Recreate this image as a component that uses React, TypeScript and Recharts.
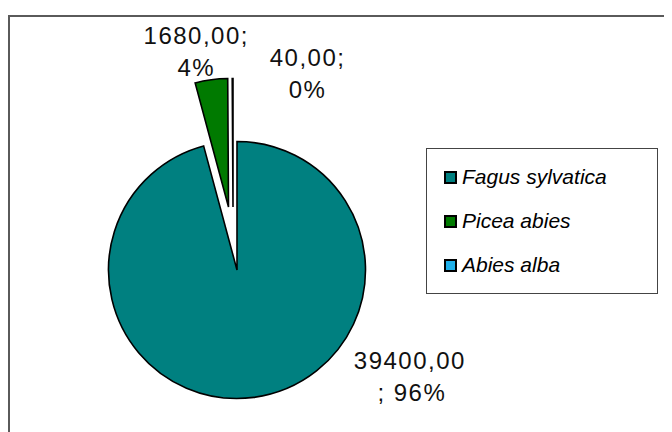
import React from 'react';
import { PieChart, Pie, Cell, Legend } from 'recharts';

const species = ['Fagus sylvatica', 'Picea abies', 'Abies alba'];
const volumes = [39400, 1680, 40];
const colors = ['#008080', '#007a00', '#1fb0ea'];

const data = species.map((name, i) => ({ name, value: volumes[i] }));

// how far each slice is pulled out of the pie (px)
const explode: Record<string, { dx: number; dy: number }> = {
  'Fagus sylvatica': { dx: 0, dy: 0 },
  'Picea abies': { dx: -8.5, dy: -63 },
  'Abies alba': { dx: -4, dy: -63 },
};

// label placement, relative to the outer middle point of the slice
const labelShift: Record<string, { dx: number; dy: number; breakBefore: boolean }> = {
  'Fagus sylvatica': { dx: 156, dy: -36, breakBefore: true },
  'Picea abies': { dx: -15, dy: -44, breakBefore: false },
  'Abies alba': { dx: 75, dy: -21, breakBefore: false },
};

const CX = 229;
const CY = 262;
const R = 128.5;
const RADIAN = Math.PI / 180;

const fmt = (v: number) => v.toFixed(2).replace('.', ',');

const renderLabel = (only: string) => (props: any) => {
  const { cx, cy, midAngle, outerRadius, name, value, percent } = props;
  if (name !== only) return null;
  const s = labelShift[name];
  const ox = cx + outerRadius * Math.cos(-midAngle * RADIAN);
  const oy = cy + outerRadius * Math.sin(-midAngle * RADIAN);
  const pct = `${Math.round(percent * 100)}%`;
  const lines = s.breakBefore ? [fmt(value), `; ${pct}`] : [`${fmt(value)};`, pct];
  return (
    <text
      x={ox + s.dx}
      y={oy + s.dy}
      textAnchor="middle"
      fill="#111"
      fontSize={24}
      fontFamily="'Liberation Sans', Arial, sans-serif"
      style={{ letterSpacing: 1.5 }}
    >
      {lines.map((l, i) => (
        <tspan key={i} x={ox + s.dx + (i === 1 && s.breakBefore ? 2 : 0)} dy={i === 0 ? 8 : 32}>
          {l}
        </tspan>
      ))}
    </text>
  );
};

const LegendBox = () => (
  <div
    style={{
      width: 230,
      height: 138,
      border: '1.5px solid #444',
      background: '#fff',
      boxSizing: 'content-box',
      paddingTop: 6,
      fontFamily: "'Liberation Sans', Arial, sans-serif",
    }}
  >
    {species.map((s, i) => (
      <div key={s} style={{ display: 'flex', alignItems: 'center', height: 44, paddingLeft: 17 }}>
        <span
          style={{
            width: 9,
            height: 9,
            border: '2px solid #000',
            background: colors[i],
            display: 'inline-block',
            marginRight: 5,
          }}
        />
        <span style={{ fontStyle: 'italic', fontSize: 21, color: '#000' }}>{s}</span>
      </div>
    ))}
  </div>
);

export default function App() {
  return (
    <div style={{ position: 'relative', width: 664, height: 424, overflow: 'hidden' }}>
      <div
        style={{
          position: 'absolute',
          left: 0,
          top: 7,
          width: 700,
          height: 500,
          borderTop: '2px solid #5a5a5a',
          borderLeft: '2px solid #5a5a5a',
        }}
      />
      <div style={{ position: 'absolute', left: 0, top: 0 }}>
        <PieChart width={664} height={424} margin={{ top: 0, right: 0, bottom: 0, left: 0 }}>
          {species.map((only) => (
            <Pie
              key={only}
              data={data}
              dataKey="value"
              nameKey="name"
              cx={CX + explode[only].dx}
              cy={CY + explode[only].dy}
              outerRadius={R}
              startAngle={90}
              endAngle={-270}
              label={renderLabel(only)}
              labelLine={false}
              isAnimationActive={false}
            >
              {data.map((d, i) => (
                <Cell
                  key={d.name}
                  fill={d.name === only ? colors[i] : 'none'}
                  stroke={d.name === only ? '#000' : 'none'}
                  strokeWidth={1.6}
                />
              ))}
            </Pie>
          ))}
          <Legend
            layout="vertical"
            align="right"
            verticalAlign="top"
            wrapperStyle={{ left: 418, top: 140, width: 234 }}
            content={() => <LegendBox />}
          />
        </PieChart>
      </div>
    </div>
  );
}
